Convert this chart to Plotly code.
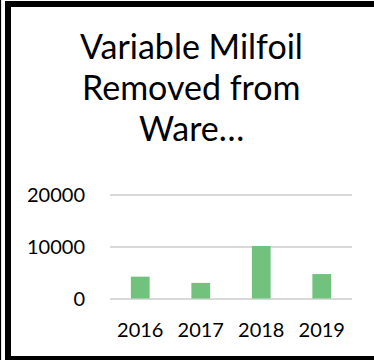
import plotly.graph_objects as go

years = ["2016", "2017", "2018", "2019"]
removed = [4200, 3000, 10100, 4700]
y_ticks = [0, 10000, 20000]
title_lines = ["Variable Milfoil", "Removed from", "Ware…"]

W, H = 374, 360
L, R, T, B = 110, 22, 192, 60
pw, ph = W - L - R, H - T - B

def px(x):
    return (x - L) / pw

def py(y):
    return (H - B - y) / ph

fig = go.Figure(go.Bar(x=years, y=removed, marker=dict(color="#71C27D", line=dict(width=0))))

title_y = [45, 86, 127]
annotations = [
    dict(text=t, xref="paper", yref="paper", x=px(191), y=py(yy),
         xanchor="center", yanchor="middle", showarrow=False,
         font=dict(family="Lato", size=34, color="black"))
    for t, yy in zip(title_lines, title_y)
]

fig.update_layout(
    width=W, height=H,
    margin=dict(l=L, r=R, t=T, b=B),
    paper_bgcolor="white", plot_bgcolor="white",
    bargap=0.69,
    showlegend=False,
    font=dict(family="Lato", color="black"),
    xaxis=dict(showgrid=False, showline=False, zeroline=False, tickfont=dict(size=20, color="black"),
               ticks="outside", ticklen=12, tickcolor="rgba(0,0,0,0)"),
    yaxis=dict(range=[-288, 20481], tickvals=y_ticks, ticktext=[str(v) for v in y_ticks],
               showgrid=True, gridcolor="#D9D9D9", gridwidth=1.5,
               zeroline=True, zerolinecolor="#D9D9D9", zerolinewidth=1.5,
               showline=False, tickfont=dict(size=20, color="black"),
               ticks="outside", ticklen=20, tickcolor="rgba(0,0,0,0)"),
    shapes=[
        dict(type="rect", xref="paper", yref="paper", x0=px(8), x1=px(382), y0=py(4), y1=py(359),
             line=dict(color="black", width=6), layer="above"),
        dict(type="line", xref="paper", yref="paper", x0=px(0.5), x1=px(0.5), y0=py(0), y1=py(360),
             line=dict(color="black", width=1.2)),
    ],
    annotations=annotations,
)

fig.write_html("out.html")
